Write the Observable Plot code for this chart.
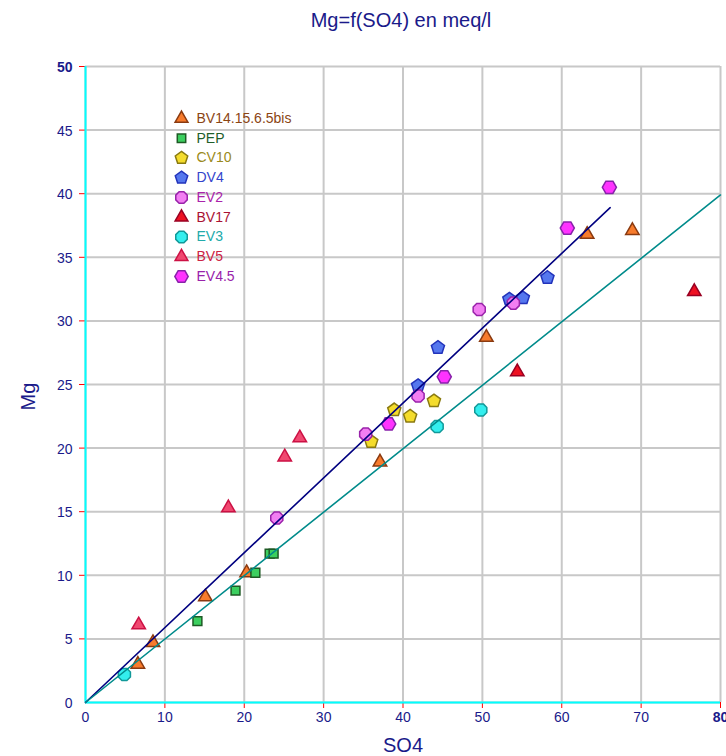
<!DOCTYPE html>
<html><head><meta charset="utf-8">
<script src="https://cdn.jsdelivr.net/npm/d3@7"></script>
<script src="https://cdn.jsdelivr.net/npm/@observablehq/plot@0.6"></script>
<style>body{margin:0;background:#fff;font-family:Arial,"Liberation Sans",sans-serif}</style>
</head><body><div id="chart"></div>
<script>
// ---- data ----
const seriesNames = ["BV14.15.6.5bis","PEP","CV10","DV4","EV2","BV17","EV3","BV5","EV4.5"];
const bv14X = [6.6, 8.5, 15.1, 20.3, 37.1, 50.5, 63.2, 68.9];
const bv14Y = [3.0, 4.7, 8.3, 10.2, 18.9, 28.7, 36.8, 37.1];
const pepX = [14.1, 18.9, 21.4, 23.2, 23.7];
const pepY = [6.4, 8.8, 10.2, 11.7, 11.7];
const cv10X = [36.0, 38.9, 40.9, 43.9];
const cv10Y = [20.5, 23.0, 22.5, 23.7];
const dv4X = [41.9, 44.4, 53.4, 55.1, 58.2];
const dv4Y = [24.9, 27.9, 31.7, 31.8, 33.4];
const ev2X = [24.1, 35.3, 41.9, 49.6, 53.9];
const ev2Y = [14.5, 21.1, 24.1, 30.9, 31.4];
const bv17X = [54.4, 76.7];
const bv17Y = [26.0, 32.3];
const ev3X = [4.9, 44.3, 49.8];
const ev3Y = [2.2, 21.7, 23.0];
const bv5X = [6.7, 18.0, 25.1, 27.0];
const bv5Y = [6.1, 15.3, 19.3, 20.8];
const ev45X = [38.2, 45.2, 60.7, 66.0];
const ev45Y = [21.9, 25.6, 37.3, 40.5];
// fitted lines
const navyLineX = [0, 66.1];
const navyLineY = [0, 38.9];
const tealLineX = [0, 80];
const tealLineY = [0, 39.9];
// ticks
const xTicks = [0, 10, 20, 30, 40, 50, 60, 70, 80];
const yTicks = [0, 5, 10, 15, 20, 25, 30, 35, 40, 45, 50];

// ---- symbols ----
function polygon(n, rot) {
  return {
    draw(context, size) {
      const R = Math.sqrt(size / (n / 2 * Math.sin(2 * Math.PI / n)));
      for (let i = 0; i < n; i++) {
        const a = rot + 2 * Math.PI * i / n;
        const px = R * Math.sin(a), py = -R * Math.cos(a);
        if (i) context.lineTo(px, py); else context.moveTo(px, py);
      }
      context.closePath();
    }
  };
}
const pentagon = polygon(5, 0);
const hexagon = polygon(6, Math.PI / 6);
const octagon = polygon(8, Math.PI / 8);
const triangle = polygon(3, 0);

const styles = [
  {symbol: triangle, fill: "#f77b2c", stroke: "#8a3a10", text: "#8b4513", r: 5.0},
  {symbol: "square", fill: "#3ccf5f", stroke: "#1e5a25", text: "#1f5e2a", r: 5.0},
  {symbol: pentagon, fill: "#f4dc2c", stroke: "#8a7a10", text: "#9a8a20", r: 6.0},
  {symbol: pentagon, fill: "#5577ee", stroke: "#2233bb", text: "#3344cc", r: 6.0},
  {symbol: octagon,  fill: "#f27ef2", stroke: "#9922aa", text: "#aa22aa", r: 6.2},
  {symbol: triangle, fill: "#ee1122", stroke: "#990022", text: "#aa1133", r: 5.0},
  {symbol: octagon,  fill: "#33eeee", stroke: "#119999", text: "#22aaaa", r: 6.2},
  {symbol: triangle, fill: "#f04870", stroke: "#cc1144", text: "#cc2244", r: 5.0},
  {symbol: hexagon,  fill: "#ff33ff", stroke: "#8822aa", text: "#9922aa", r: 6.4}
];
const xs = [bv14X, pepX, cv10X, dv4X, ev2X, bv17X, ev3X, bv5X, ev45X];
const ys = [bv14Y, pepY, cv10Y, dv4Y, ev2Y, bv17Y, ev3Y, bv5Y, ev45Y];

const navy = "#1a1a8a";
const marks = [];
// grid
marks.push(Plot.ruleX(xTicks, {stroke: "#c8c8c8", strokeWidth: 2}));
marks.push(Plot.ruleY(yTicks, {stroke: "#c8c8c8", strokeWidth: 2}));
// red ticks
marks.push(Plot.axisX({ticks: xTicks.filter(d => d > 0), tickSize: 6, tickFormat: () => "", color: "red", label: null}));
marks.push(Plot.axisY({ticks: yTicks.filter(d => d > 0), tickSize: 6, tickFormat: () => "", color: "red", label: null}));
// cyan axes
marks.push(Plot.ruleX([0], {stroke: "#00ffff", strokeWidth: 2}));
marks.push(Plot.ruleY([0], {stroke: "#00ffff", strokeWidth: 2}));
// tick labels
marks.push(Plot.text(xTicks.filter(d => d < 80), {x: d => d, frameAnchor: "bottom", dy: 15, text: d => String(d), fill: navy, fontSize: 14, lineAnchor: "middle"}));
marks.push(Plot.text(xTicks.filter(d => d === 80), {x: d => d, frameAnchor: "bottom", dy: 15, text: d => String(d), fill: navy, fontSize: 14, fontWeight: "bold", lineAnchor: "middle"}));
marks.push(Plot.text(yTicks.filter(d => d < 50), {y: d => d, frameAnchor: "left", dx: -13, dy: 1, text: d => String(d), fill: navy, fontSize: 14, textAnchor: "end"}));
marks.push(Plot.text(yTicks.filter(d => d === 50), {y: d => d, frameAnchor: "left", dx: -13, dy: 1, text: d => String(d), fill: navy, fontSize: 14, fontWeight: "bold", textAnchor: "end"}));
// points
seriesNames.forEach((name, k) => {
  const s = styles[k];
  const rows = xs[k].map((x, i) => ({x, y: ys[k][i]}));
  marks.push(Plot.dot(rows, {x: "x", y: "y", symbol: s.symbol, r: s.r, fill: s.fill, stroke: s.stroke, strokeWidth: 1.5}));
});
// lines
marks.push(Plot.line(navyLineX.map((x, i) => ({x, y: navyLineY[i]})), {x: "x", y: "y", stroke: "#000080", strokeWidth: 1.6}));
marks.push(Plot.line(tealLineX.map((x, i) => ({x, y: tealLineY[i]})), {x: "x", y: "y", stroke: "#008b8b", strokeWidth: 1.6}));
// legend
seriesNames.forEach((name, k) => {
  const s = styles[k];
  const dy = 52 + k * 19.75;
  marks.push(Plot.dot([name], {frameAnchor: "top-left", dx: 96, dy, symbol: s.symbol, r: s.r * 0.95, fill: s.fill, stroke: s.stroke, strokeWidth: 1.5}));
  marks.push(Plot.text([name], {frameAnchor: "top-left", dx: 111, dy, text: d => d, fill: s.text, fontSize: 14, textAnchor: "start", lineAnchor: "middle"}));
});
// titles
marks.push(Plot.text(["Mg=f(SO4) en meq/l"], {frameAnchor: "top", dx: -2, dy: -46, text: d => d, fill: navy, fontSize: 20, lineAnchor: "middle"}));
marks.push(Plot.text(["SO4"], {frameAnchor: "bottom", dy: 43, text: d => d, fill: navy, fontSize: 20, lineAnchor: "middle"}));
marks.push(Plot.text(["Mg"], {frameAnchor: "left", dx: -57, dy: 26, rotate: -90, text: d => d, fill: navy, fontSize: 20, lineAnchor: "middle"}));

const chart = Plot.plot({
  width: 726, height: 756,
  marginLeft: 85, marginRight: 6, marginTop: 66, marginBottom: 54,
  x: {domain: [0, 80], axis: null},
  y: {domain: [0, 50], axis: null},
  style: {fontFamily: "Arial, 'Liberation Sans', sans-serif", background: "#fff"},
  marks
});
document.getElementById("chart").appendChild(chart);
</script>
</body></html>
